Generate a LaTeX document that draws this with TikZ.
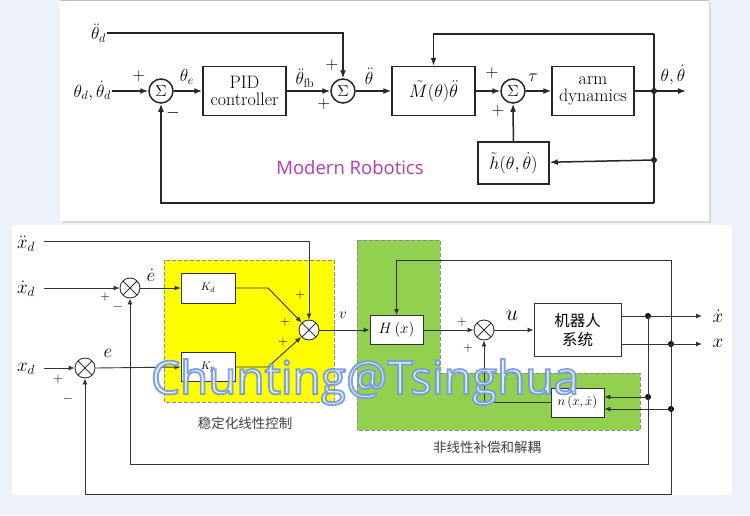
\RequirePackage{fix-cm}
\documentclass[tikz,border=0pt]{standalone}
\usepackage{amsmath}
\usepackage{fontspec}
\usetikzlibrary{arrows.meta}
\newfontfamily\cjk{Noto Sans CJK SC}
\newfontfamily\wmfont{Open Sans}
\definecolor{bgblue}{RGB}{237,241,249}
\definecolor{mrpurple}{RGB}{176,62,170}
\definecolor{yellowfill}{RGB}{255,255,0}
\definecolor{greenfill}{RGB}{146,208,80}
\definecolor{wmfill}{RGB}{236,241,251}
\makeatletter
\newcommand\wmtext[1]{\pgfsys@invoke{2 Tr 1.9 w 0.45 0.6 0.87 RG}#1\pgfsys@invoke{0 Tr}}
\makeatother

\begin{document}
\begin{tikzpicture}[x=1pt, y=-1pt,
    tl/.style={line width=1.5pt, draw=black!85},
    tarr/.style={tl, -{Latex[length=8pt,width=6pt]}},
    tbox/.style={draw=black!85, line width=1.5pt, minimum width=83pt, minimum height=49pt, align=center, inner sep=1pt, font=\fontsize{18}{17}\selectfont},
    tsum/.style={draw=black!85, line width=1.5pt, circle, minimum size=24pt, inner sep=0pt, font=\fontsize{16}{16}\selectfont},
    tdot/.style={circle, fill=black!85, inner sep=0pt, minimum size=6pt},
    tlab/.style={inner sep=1pt, font=\fontsize{17.5}{17}\selectfont},
    bl/.style={line width=0.9pt, draw=black!80},
    barr/.style={bl, -{Latex[length=6pt,width=5pt]}},
    bbox/.style={draw=black!80, line width=0.9pt, fill=white, align=center, inner sep=1pt},
    bsum/.style={draw=black!80, line width=0.9pt, circle, fill=white, minimum size=20pt, inner sep=0pt,
      path picture={\draw[line width=0.9pt, black!80]
        (path picture bounding box.south west) -- (path picture bounding box.north east)
        (path picture bounding box.north west) -- (path picture bounding box.south east);}},
    bdot/.style={circle, fill=black, inner sep=0pt, minimum size=6pt},
    blab/.style={inner sep=1pt, font=\fontsize{19}{19}\selectfont},
    sgn/.style={inner sep=0pt, font=\fontsize{13}{13}\selectfont},
    region/.style={draw=black!45, line width=0.8pt, dash pattern=on 4pt off 2pt},
    cnlab/.style={text=black!75, font=\cjk\fontsize{13.5}{14}\selectfont}]

% backgrounds
\fill[bgblue] (0,0) rectangle (750,515);
\useasboundingbox (0,0) rectangle (750,515);
\fill[black!15] (62,2) rectangle (711,223);
\fill[white] (60,0) rectangle (709,221);
\draw[black!25] (60,0.5) -- (709,0.5);
\fill[white] (12,225) rectangle (732,495);

% ---- top diagram ----
\node[tsum] (sA) at (161,91) {$\Sigma$};
\node[tbox] (pid) at (244.5,91) {PID\\controller};
\node[tsum] (sB) at (343,91) {$\Sigma$};
\node[tbox] (mm) at (433.5,91) {$\tilde M(\theta)\ddot\theta$};
\node[tsum] (sC) at (513,91) {$\Sigma$};
\node[tbox, minimum width=82pt] (arm) at (593,91) {arm\\dynamics};
\node[tbox, minimum width=71pt, minimum height=42pt] (hh) at (513.5,163) {$\tilde h(\theta,\dot\theta)$};
\node[tdot] (jA) at (654,91) {};
\node[tdot] (jB) at (654,160) {};
\coordinate (tout) at (686,91);
\coordinate (cTop) at (654,34);
\coordinate (cBot) at (654,203);
\node[tlab, anchor=east] (lthdd) at (107,33) {$\ddot\theta_d$};
\node[tlab, anchor=east] (lthd) at (112,91) {$\theta_d,\dot\theta_d$};

\draw[tarr] (lthd) -- (sA);
\draw[tarr] (sA) -- (pid);
\draw[tarr] (pid) -- (sB);
\draw[tarr] (lthdd.east) -| (sB.north);
\draw[tarr] (sB) -- (mm);
\draw[tarr] (mm) -- (sC);
\draw[tarr] (sC) -- (arm);
\draw[tarr] (arm) -- (tout);
\draw[tarr] (cTop) -| (mm.north);
\draw[tl] (cTop) -- (cBot);
\draw[tarr] (cBot) -| (sA.south);
\draw[tarr] (jB) -- (hh);
\draw[tarr] (hh) -- (sC);

\node[tlab] at (139,76) {$+$};
\node[tlab] at (173,113) {$-$};
\node[tlab] at (187,77) {$\theta_e$};
\node[tlab] at (305,78) {$\ddot\theta_{\mathrm{fb}}$};
\node[tlab] at (332,65) {$+$};
\node[tlab] at (324,104) {$+$};
\node[tlab] at (369,76) {$\ddot\theta$};
\node[tlab] at (492,73) {$+$};
\node[tlab] at (498,111) {$+$};
\node[tlab] at (533,78) {$\tau$};
\node[tlab] at (673,75) {$\theta,\dot\theta$};
\node[text=mrpurple, font=\wmfont\fontsize{18.5}{20}\selectfont] at (350,168) {Modern Robotics};

% ---- bottom diagram ----
\fill[yellowfill] (164,260) rectangle (334,402);
\draw[region] (164,260) rectangle (334,402);
\filldraw[region, fill=greenfill] (357,240) -- (440,240) -- (440,373) -- (640,373) -- (640,430) -- (357,430) -- cycle;
\node[cnlab] at (245,423) {稳定化线性控制};
\node[cnlab] at (487,447) {非线性补偿和解耦};

\node[bsum] (sED) at (130,288) {};
\node[bsum] (sE) at (85,368) {};
\node[bsum] (sV) at (309,330) {};
\node[bsum] (sU) at (484,330) {};
\node[bbox, minimum width=54pt, minimum height=30pt, font=\fontsize{11}{11}\selectfont] (kd) at (208,288) {$K_d$};
\node[bbox, minimum width=54pt, minimum height=29pt, font=\fontsize{11}{11}\selectfont] (kp) at (208,367) {$K_p$};
\node[bbox, minimum width=53pt, minimum height=29pt, font=\fontsize{15}{15}\selectfont] (hx) at (396.5,330) {$H\left(x\right)$};
\node[bbox, minimum width=87pt, minimum height=53pt, font=\cjk\fontsize{15.5}{19}\selectfont] (rob) at (577.5,330) {机器人\\系统};
\node[bbox, minimum width=53pt, minimum height=29pt, font=\fontsize{13}{13}\selectfont] (nx) at (577.5,402.5) {$n\left(x,\dot x\right)$};
\node[bdot] (d1) at (648,316) {};
\node[bdot] (d2) at (671,344) {};
\node[bdot] (d3) at (648,397) {};
\node[bdot] (d4) at (671,409) {};

\node[blab] (lxdd) at (26,244) {$\ddot x_d$};
\node[blab] (lxd) at (26,289) {$\dot x_d$};
\node[blab] (lx) at (26,369) {$x_d$};
\coordinate (cXdd) at (44,241);
\coordinate (cXd) at (44,288);
\coordinate (cX) at (44,368);
\coordinate (oXd) at (702,316);
\coordinate (oX) at (702,344);
\coordinate (fbTop) at (671,260);
\coordinate (fbBot) at (671,494);
\coordinate (fbMid) at (648,464);

\draw[barr] (cXdd) -| (sV.north);
\draw[barr] (cXd) -- (sED.west);
\draw[barr] (cX) -- (sE.west);
\draw[barr] (sED.east) -- (kd.west);
\draw[barr] (sE.east) -- (kp.west);
\draw[barr] (kd.east) -- (268,288) -- (sV);
\draw[barr] (kp.east) -- (268,367) -- (sV);
\draw[barr] (sV.east) -- (hx.west);
\draw[barr] (hx.east) -- (sU.west);
\draw[barr] (sU.east) -- (rob.west);
\draw[barr] (rob.east |- oXd) -- (oXd);
\draw[barr] (rob.east |- oX) -- (oX);
\draw[barr] (d3.center) -- (nx.east |- d3);
\draw[barr] (d4.center) -- (nx.east |- d4);
\draw[barr] (nx.west) -| (sU.south);
\draw[barr] (d2.center) -- (fbTop) -| (hx.north);
\draw[barr] (d2.center) -- (fbBot) -| (sE.south);
\draw[barr] (d1.center) -- (fbMid) -| (sED.south);

\node[blab] at (718,316) {$\dot x$};
\node[blab] at (718,343) {$x$};
\node[sgn] at (105,297) {$+$};
\node[sgn] at (118,307) {$-$};
\node[sgn] at (58,379) {$+$};
\node[sgn] at (68,399) {$-$};
\node[sgn] at (300,295) {$+$};
\node[sgn] at (285,322) {$+$};
\node[sgn] at (283,342) {$+$};
\node[sgn] at (462,322) {$+$};
\node[sgn] at (468,348) {$+$};
\node[blab] at (151,275) {$\dot e$};
\node[blab] at (108,353) {$e$};
\node[inner sep=1pt, font=\fontsize{15}{15}\selectfont] at (343,315) {$v$};
\node[inner sep=1pt, font=\fontsize{22}{22}\selectfont] at (512,316) {$u$};

% watermark
\node[font=\wmfont\fontsize{46}{46}\selectfont, anchor=base, text=wmfill, opacity=0.9, inner sep=0pt] (wm) at (365,394) {\wmtext{Chunting@Tsinghua}};
\end{tikzpicture}
\end{document}
